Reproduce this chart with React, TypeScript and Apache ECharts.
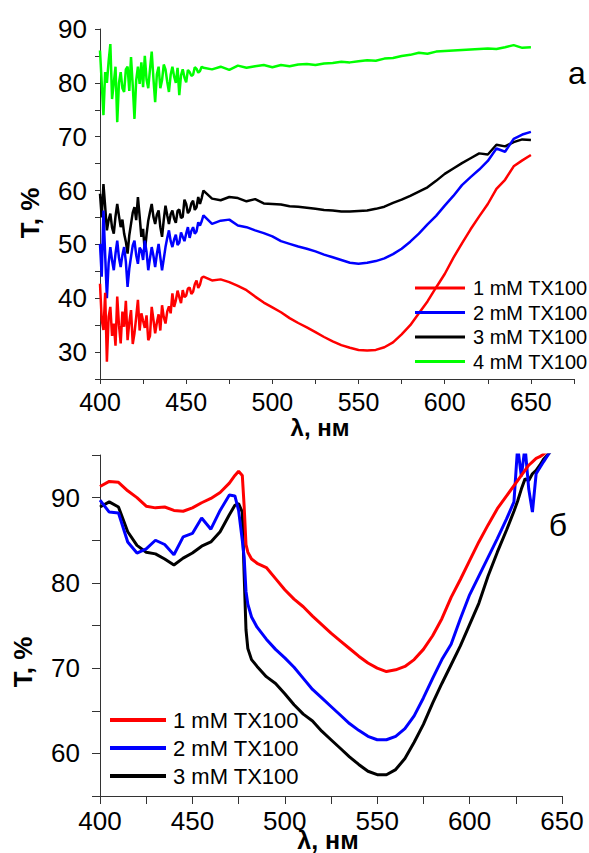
import React, { useEffect, useRef } from "react";
import * as echarts from "echarts";

const FONT = "'Liberation Sans', Arial, sans-serif";

const NAMES_A = ["1 mM TX100", "2 mM TX100", "3 mM TX100", "4 mM TX100"];
const NAMES_B = ["1 mM TX100", "2 mM TX100", "3 mM TX100"];

// Panel а: wavelengths (nm)
const TOP_X = [400,401,402,403,404,405,406,407,408,409,410,411,412,413,414,415,416,417,418,419,
  420,421,422,423,424,425,426,427,428,429,430,431,432,433,434,435,436,437,438,439,
  440,441,442,443,444,445,446,447,448,449,450,451,452,453,454,455,456,457,458,459,460,
  465,470,475,480,485,490,495,500,505,510,515,520,525,530,535,540,545,550,555,560,565,570,575,580,585,590,595,600,605,610,615,620,625,630,635,640,645,650];

const RED_A = [42.7,36,34.1,41,28.2,36.5,38.4,33,35.3,31.2,40.3,35,31.6,37.5,34.7,39.5,32.2,35.5,37.8,31.5,
  33.5,36.5,39.7,34,37.2,35.8,34.5,36.8,32.2,33,38.4,36,33.5,35.5,37,34,38.7,36.5,35.3,37.5,
  38.5,37.2,40.9,38.4,39.6,41.4,40.2,39.1,41.5,40.2,40.5,41.8,42,40.8,41.2,42.6,43.3,41.9,42.5,43.8,44,
  43.3,43.5,43,42.3,41.5,40.3,39.2,38.3,37.4,36.3,35.4,34.6,33.7,32.8,32,31.3,30.8,30.4,30.3,30.4,30.9,31.8,33.3,35,37.2,39.4,42,44.5,47.5,50.2,52.8,55.2,57.5,60.3,62,64.5,65.6,66.6];

const BLUE_A = [50.1,44,56.3,48,40,46.5,49.5,47,45.2,48.3,50.7,47.5,45.8,48,49.5,46.8,42.1,45.5,47.7,49.8,
  50.7,48,46.4,49.4,48.9,47.1,50.7,48.6,45.2,47.4,49.5,47.9,45.8,48.2,50.1,47.6,45.2,47.3,49.5,51.2,
  52.6,50.6,49.5,50.9,51.8,49.9,50.3,52.2,51.4,50.6,52,53.2,51.2,52.5,53.2,52,52.4,54.1,53.5,54.3,55.4,
  53.8,54.4,54.6,53.5,53.2,52.6,52.1,51.5,50.6,50.1,49.6,49.2,48.7,48.1,47.6,47.1,46.6,46.4,46.6,46.9,47.4,48.2,49.2,50.5,52,53.7,55.3,57.2,59,61,62.5,63.9,65.5,67.8,67.2,69.6,70.4,70.9];

const BLACK_A = [59.4,55,61.2,57,52.6,54.5,55.7,53.1,52,55.2,57.5,55.3,53.2,54.6,52,50.5,48.3,51.7,53.8,55.9,
  56.9,54.5,58.8,55.2,51.4,52.9,48.6,51.8,54.4,56,57.5,55.1,53.8,55.5,56.3,53.2,51.4,54.6,57.2,55.4,
  53.8,55.6,56.3,54.8,54,56.2,56.5,54.9,55.1,58.3,57.5,55.8,56.3,57.6,58.1,56.4,56.9,58.8,57.5,58.6,60,
  58.5,58.2,58.8,58.6,58,58.4,57.6,57.5,57.4,57.1,57,56.8,56.6,56.4,56.3,56.1,56.1,56.2,56.3,56.6,57,57.7,58.3,59,59.8,60.6,61.8,63.1,64.1,65.1,66,66.9,66.7,68.5,68.2,69,69.5,69.4];

const GREEN_A = [86,80,74,82,80,84,87.2,77,80,83,72.7,80,82,79,78.3,82.5,83,78.5,84.8,79.5,
  73.3,80.5,83,79.8,83.8,79.2,85,80.6,79,82.5,85.8,80.8,76.4,81.6,83,79,80.5,83.4,82.5,80.2,
  78.3,81.5,83,81.2,80,82.8,77.7,81.4,82.5,81,80.1,82.4,82,81.3,81.5,82.9,82.6,81.9,82.2,83,82.8,
  82.5,83,82.4,83.2,82.8,83.1,83.3,82.9,83.3,83.1,83.4,83.5,83.3,83.6,83.7,83.9,83.8,84,84.2,84.1,84.5,84.6,85,85.2,85.6,85.4,85.8,85.9,86,86.1,86.2,86.3,86.4,86.3,86.6,87,86.5,86.6];

// Panel б: wavelengths (nm)
const BOT_X = [400,405,410,415,420,425,430,435,440,445,450,455,460,465,470,
  473,475,477,478,479,480,482,485,
  490,495,500,505,510,515,520,525,530,535,540,545,550,555,560,565,570,575,580,585,590,595,600,605,610,615,620,
  624,626,628,630,632,634,636,638,640,643,646];

const RED_B = [91.3,91.9,91.8,90.8,90,89,88.8,88.9,88.5,88.4,88.8,89.4,89.9,90.6,91.7,
  92.6,93.1,92.6,89,84.5,83.6,82.8,82.3,
  81.8,80.5,79.2,78.1,77.2,76.1,75.1,74.1,73.2,72.3,71.4,70.6,70,69.6,69.8,70.2,71,72.2,73.8,75.8,78.3,80.4,82.6,84.8,86.8,88.7,90.2,
  91.4,92,92.6,93.2,93.8,94.2,94.6,94.8,95.1,95.6,96.2];

const BLUE_B = [89.7,88.3,88.2,84.8,83.5,84,85,84.5,83.3,85.4,85.8,87.6,86.3,88.5,90.3,
  90.2,88.5,85,83,79,77.5,76,74.8,
  73.4,72.2,71.2,70.1,68.8,67.5,66.5,65.5,64.5,63.5,62.7,62,61.6,61.6,62,62.9,64.4,66.5,68.8,71,72.8,75.8,78.6,80.8,83,85.2,87.5,
  89.5,96,92.5,96,91,88.3,92.8,93.5,94.2,95.2,96];

const BLACK_B = [88.9,89.5,88.9,86,84.4,83.6,83.4,82.8,82.1,82.9,83.5,84.3,84.8,86,88,
  89.1,89.3,88.3,81,74.5,72.3,71,70.2,
  69,68.2,67,65.7,64.6,63.8,62.6,61.6,60.6,59.6,58.7,57.9,57.5,57.5,58.1,59.4,61.3,63.4,65.9,68.2,70.4,72.6,75.1,77.6,80.8,83.6,86.2,
  88.4,89.6,91,92.2,92,92.8,93.2,93.8,94.5,95.2,96];

const zip = (xs: number[], ys: number[]) => xs.map((x, i) => [x, ys[i]]);

const axisLineStyle = { color: "#333", width: 1 };

function makeX(grid: number, max: number, tickLen: number, margin: number, size: number) {
  return {
    type: "value",
    gridIndex: grid,
    min: 400,
    max,
    interval: 25,
    axisLine: { show: true, onZero: false, lineStyle: axisLineStyle },
    axisTick: { show: true, length: tickLen, lineStyle: axisLineStyle },
    splitLine: { show: false },
    axisLabel: {
      fontSize: size,
      fontFamily: FONT,
      color: "#000",
      margin,
      formatter: (v: number) => (v % 50 === 0 && v <= 650 ? String(v) : ""),
    },
  };
}

function makeY(grid: number, min: number, max: number, tickLen: number, margin: number) {
  return {
    type: "value",
    gridIndex: grid,
    min,
    max,
    interval: 5,
    axisLine: { show: true, onZero: false, lineStyle: axisLineStyle },
    axisTick: { show: true, length: tickLen, lineStyle: axisLineStyle },
    splitLine: { show: false },
    axisLabel: {
      fontSize: 26,
      fontFamily: FONT,
      color: "#000",
      margin,
      formatter: (v: number) => (v % 10 === 0 ? String(v) : ""),
    },
  };
}

function line(name: string, data: number[][], color: string, idx: number, width: number) {
  return {
    type: "line",
    name,
    xAxisIndex: idx,
    yAxisIndex: idx,
    data,
    showSymbol: false,
    symbol: "none",
    clip: true,
    lineStyle: { color, width },
    itemStyle: { color },
  };
}

function text(t: string, x: number, y: number, size: number, bold: boolean, rot = 0) {
  return {
    type: "text",
    x,
    y,
    rotation: rot,
    style: {
      text: t,
      fontSize: size,
      fontWeight: bold ? "bold" : "normal",
      fontFamily: FONT,
      fill: "#000",
      align: "center",
      verticalAlign: "middle",
      textAlign: "center",
      textVerticalAlign: "middle",
    },
  };
}

export default function App() {
  const ref = useRef<HTMLDivElement>(null);
  useEffect(() => {
    if (!ref.current) return;
    const chart = echarts.init(ref.current, null, { renderer: "svg" });
    chart.setOption({
      animation: false,
      backgroundColor: "#fff",
      grid: [
        { left: 100, top: 29, width: 474, height: 350 },
        { left: 100, top: 455, width: 462, height: 341 },
      ],
      xAxis: [makeX(0, 675, 5, 10, 25), makeX(1, 650, 8, 12, 26)],
      yAxis: [makeY(0, 25, 90, 5, 13), makeY(1, 55, 95, 8, 20)],
      legend: [
        {
          data: NAMES_A,
          orient: "vertical",
          left: 415,
          top: 278,
          padding: 0,
          itemWidth: 50,
          itemHeight: 3,
          itemGap: 4.5,
          icon: "rect",
          selectedMode: false,
          textStyle: { fontSize: 20, lineHeight: 20, color: "#000", fontFamily: FONT, padding: [0, 0, 0, 3] },
        },
        {
          data: NAMES_B,
          orient: "vertical",
          left: 110,
          top: 709,
          padding: 0,
          itemWidth: 56,
          itemHeight: 4,
          itemGap: 6,
          icon: "rect",
          selectedMode: false,
          textStyle: { fontSize: 22, lineHeight: 22, color: "#000", fontFamily: FONT, padding: [0, 0, 0, 2] },
        },
      ],
      series: [
        line(NAMES_A[2], zip(TOP_X, BLACK_A), "#000000", 0, 2.5),
        line(NAMES_A[1], zip(TOP_X, BLUE_A), "#0000ff", 0, 2.5),
        line(NAMES_A[0], zip(TOP_X, RED_A), "#ff0000", 0, 2.5),
        line(NAMES_A[3], zip(TOP_X, GREEN_A), "#00ff00", 0, 2.5),
        line(NAMES_B[2], zip(BOT_X, BLACK_B), "#000000", 1, 3),
        line(NAMES_B[1], zip(BOT_X, BLUE_B), "#0000ff", 1, 3),
        line(NAMES_B[0], zip(BOT_X, RED_B), "#ff0000", 1, 3),
      ],
      graphic: [
        text("T, %", 30, 213, 26, true, Math.PI / 2),
        text("λ, нм", 320, 427, 24, true),
        text("T, %", 23, 662, 26, true, Math.PI / 2),
        text("λ, нм", 328, 840, 25, true),
        text("а", 577, 73, 32, false),
        text("б", 558, 525, 32, false),
      ],
    });
    return () => chart.dispose();
  }, []);
  return <div ref={ref} style={{ position: "fixed", left: 0, top: 0, width: 589, height: 853 }} />;
}
